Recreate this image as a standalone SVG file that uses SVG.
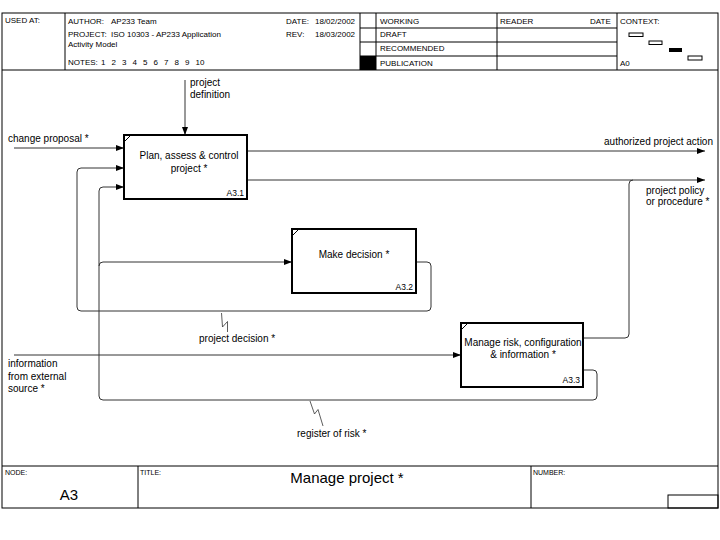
<svg xmlns="http://www.w3.org/2000/svg" width="720" height="540" viewBox="0 0 720 540">
<style>
text{font-family:"Liberation Sans",Arial,sans-serif;fill:#000}
.h{font-size:8px}
.f{font-size:7px}
.lbl{font-size:10px}
.id{font-size:8.5px}
.frame{fill:none;stroke:#000;stroke-width:1}
.box{fill:#fff;stroke:#000;stroke-width:2}
.c{fill:none;stroke:#333;stroke-width:1}
.sq{fill:none;stroke:#333;stroke-width:0.8}
</style>
<defs>
<marker id="ah" viewBox="0 0 8 6" refX="8" refY="3" markerWidth="8" markerHeight="6" markerUnits="userSpaceOnUse" orient="auto">
<path d="M0,0 L8,3 L0,6 z" fill="#000"/>
</marker>
</defs>
<rect width="720" height="540" fill="#fff"/>
<g id="header">
<rect class="frame" x="2" y="13" width="716" height="495"/>
<line class="frame" x1="2" y1="70" x2="718" y2="70"/>
<line class="frame" x1="65" y1="13" x2="65" y2="70"/>
<line class="frame" x1="360" y1="13" x2="360" y2="70"/>
<line class="frame" x1="376" y1="13" x2="376" y2="70"/>
<line class="frame" x1="497" y1="13" x2="497" y2="70"/>
<line class="frame" x1="617" y1="13" x2="617" y2="70"/>
<line class="frame" x1="360" y1="28" x2="617" y2="28"/>
<line class="frame" x1="360" y1="42" x2="617" y2="42"/>
<line class="frame" x1="360" y1="56" x2="617" y2="56"/>
<rect x="360" y="56" width="16" height="14" fill="#000"/>
<text class="h" x="5" y="23">USED AT:</text>
<text class="h" x="68" y="23.5">AUTHOR:</text>
<text class="h" x="111" y="23.5">AP233 Team</text>
<text class="h" x="68" y="37">PROJECT:</text>
<text class="h" x="111" y="37">ISO 10303 - AP233 Application</text>
<text class="h" x="68" y="47">Activity Model</text>
<text class="h" x="68" y="65">NOTES:</text>
<text class="h" x="101" y="65" xml:space="preserve" word-spacing="0.8">1  2  3  4  5  6  7  8  9  10</text>
<text class="h" x="286" y="23.5">DATE:</text>
<text class="h" x="315" y="23.5">18/02/2002</text>
<text class="h" x="286" y="37">REV:</text>
<text class="h" x="315" y="37">18/03/2002</text>
<text class="h" x="380" y="23.5">WORKING</text>
<text class="h" x="380" y="37">DRAFT</text>
<text class="h" x="380" y="51">RECOMMENDED</text>
<text class="h" x="380" y="65.5">PUBLICATION</text>
<text class="h" x="500" y="23.5">READER</text>
<text class="h" x="590" y="23.5">DATE</text>
<text class="h" x="620" y="23.5">CONTEXT:</text>
<text class="h" x="620" y="65.5">A0</text>
<rect x="629" y="33" width="14" height="3.5" fill="#fff" stroke="#000" stroke-width="1"/>
<rect x="649" y="41" width="13" height="3.5" fill="#fff" stroke="#000" stroke-width="1"/>
<rect x="669" y="48" width="13" height="4" fill="#000"/>
<rect x="688" y="56" width="14" height="4" fill="#fff" stroke="#000" stroke-width="1"/>
</g>
<g id="footer">
<line class="frame" x1="2" y1="466" x2="718" y2="466"/>
<line class="frame" x1="138" y1="466" x2="138" y2="508"/>
<line class="frame" x1="531" y1="466" x2="531" y2="508"/>
<rect class="frame" x="668" y="495" width="50" height="13"/>
<text class="f" x="5" y="475">NODE:</text>
<text class="f" x="140" y="475">TITLE:</text>
<text class="f" x="533" y="475">NUMBER:</text>
<text x="69" y="500" font-size="15" text-anchor="middle">A3</text>
<text x="347" y="483" font-size="15" text-anchor="middle">Manage project *</text>
</g>
<g id="connectors">
<path class="c" d="M185,80 V135" marker-end="url(#ah)"/>
<path class="c" d="M14,148 H124" marker-end="url(#ah)"/>
<path class="c" d="M247,151 H705" marker-end="url(#ah)"/>
<path class="c" d="M247,180 H705" marker-end="url(#ah)"/>
<path class="c" d="M583,338 H625 Q629,338 629,334 V184 Q629,180 633,180"/>
<path class="c" d="M416,262 H427 Q431,262 431,266 V307 Q431,311 427,311 H81 Q77,311 77,307 V172 Q77,168 81,168 H124" marker-end="url(#ah)"/>
<path class="c" d="M583,370 H593 Q597,370 597,374 V396 Q597,400 593,400 H103 Q99,400 99,396 V191 Q99,187 103,187 H124" marker-end="url(#ah)"/>
<path class="c" d="M99,266 Q99,262 103,262 H292" marker-end="url(#ah)"/>
<path class="c" d="M14,355 H461" marker-end="url(#ah)"/>
<path class="sq" d="M221.5,313 L222.5,327 L227.5,321.5 L227.5,332"/>
<path class="sq" d="M310,401 L314.5,414 L318,409.5 L323,426"/>
<text class="lbl" x="190" y="86">project</text>
<text class="lbl" x="190" y="98">definition</text>
<text class="lbl" x="8" y="142">change proposal *</text>
<text class="lbl" x="713" y="145" text-anchor="end">authorized project action</text>
<text class="lbl" x="646" y="194">project policy</text>
<text class="lbl" x="646" y="205">or procedure *</text>
<text class="lbl" x="199" y="342">project decision *</text>
<text class="lbl" x="8" y="367">information</text>
<text class="lbl" x="8" y="380">from external</text>
<text class="lbl" x="8" y="392">source *</text>
<text class="lbl" x="297" y="437">register of risk *</text>
</g>
<g id="A3.1">
<rect class="box" x="124" y="135" width="123" height="64"/>
<line x1="125" y1="141" x2="130" y2="136" stroke="#000" stroke-width="1"/>
<text class="lbl" x="189" y="159" text-anchor="middle">Plan, assess &amp; control</text>
<text class="lbl" x="189" y="172" text-anchor="middle">project *</text>
<text class="id" x="244" y="196" text-anchor="end">A3.1</text>
</g>
<g id="A3.2">
<rect class="box" x="292" y="229" width="124" height="64"/>
<line x1="293" y1="235" x2="298" y2="230" stroke="#000" stroke-width="1"/>
<text class="lbl" x="354" y="258" text-anchor="middle">Make decision *</text>
<text class="id" x="413" y="290" text-anchor="end">A3.2</text>
</g>
<g id="A3.3">
<rect class="box" x="461" y="323" width="122" height="64"/>
<line x1="462" y1="329" x2="467" y2="324" stroke="#000" stroke-width="1"/>
<text class="lbl" x="523" y="346" text-anchor="middle">Manage risk, configuration</text>
<text class="lbl" x="523" y="358" text-anchor="middle">&amp; information *</text>
<text class="id" x="580" y="383" text-anchor="end">A3.3</text>
</g>
</svg>
